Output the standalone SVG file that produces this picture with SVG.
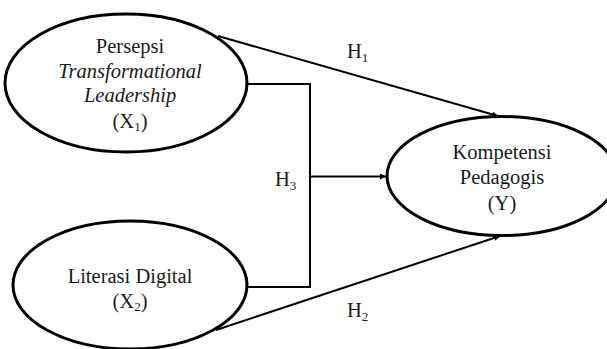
<svg xmlns="http://www.w3.org/2000/svg" width="607" height="349" viewBox="0 0 607 349">
<defs>
<style>
.node{fill:#fff;stroke:#000;stroke-width:3}
text{font-family:'Liberation Serif','Times New Roman',serif;font-size:20.5px;fill:#1a1a1a}
.t{text-anchor:middle}
.sub{font-size:13px}
.c{fill:none;stroke:#000;stroke-width:2}
</style>
<marker id="arr" viewBox="0 0 10 10" refX="10" refY="5" markerWidth="6" markerHeight="6" orient="auto" markerUnits="userSpaceOnUse">
<path d="M0,0 L10,5 L0,10 Z" fill="#000"/>
</marker>
</defs>
<rect width="607" height="349" fill="#fff"/>
<g id="connectors">
<line class="c" x1="218" y1="36" x2="498" y2="116" marker-end="url(#arr)"/>
<line class="c" x1="216" y1="330" x2="500" y2="236" marker-end="url(#arr)"/>
<polyline class="c" points="247,84 310,84 310,287 247,287"/>
<line class="c" x1="310" y1="176.5" x2="386" y2="176.5" marker-end="url(#arr)"/>
<text x="347" y="58">H<tspan class="sub" dy="4">1</tspan></text>
<text x="275" y="186">H<tspan class="sub" dy="4">3</tspan></text>
<text x="347" y="317">H<tspan class="sub" dy="4">2</tspan></text>
</g>
<g id="x1">
<ellipse class="node" cx="126" cy="83" rx="121" ry="69"/>
<text class="t" x="130" y="53">Persepsi</text>
<text class="t" x="130" y="78" font-style="italic">Transformational</text>
<text class="t" x="130" y="102" font-style="italic">Leadership</text>
<text class="t" x="130" y="128">(X<tspan class="sub" dy="3">1</tspan><tspan dy="-3">)</tspan></text>
</g>
<g id="x2">
<ellipse class="node" cx="130" cy="285" rx="117" ry="64"/>
<text class="t" x="130" y="283">Literasi Digital</text>
<text class="t" x="130" y="308">(X<tspan class="sub" dy="3">2</tspan><tspan dy="-3">)</tspan></text>
</g>
<g id="y">
<ellipse class="node" cx="502" cy="176" rx="115" ry="59.5"/>
<text class="t" x="502" y="159">Kompetensi</text>
<text class="t" x="502" y="184">Pedagogis</text>
<text class="t" x="502" y="210">(Y)</text>
</g>
</svg>
